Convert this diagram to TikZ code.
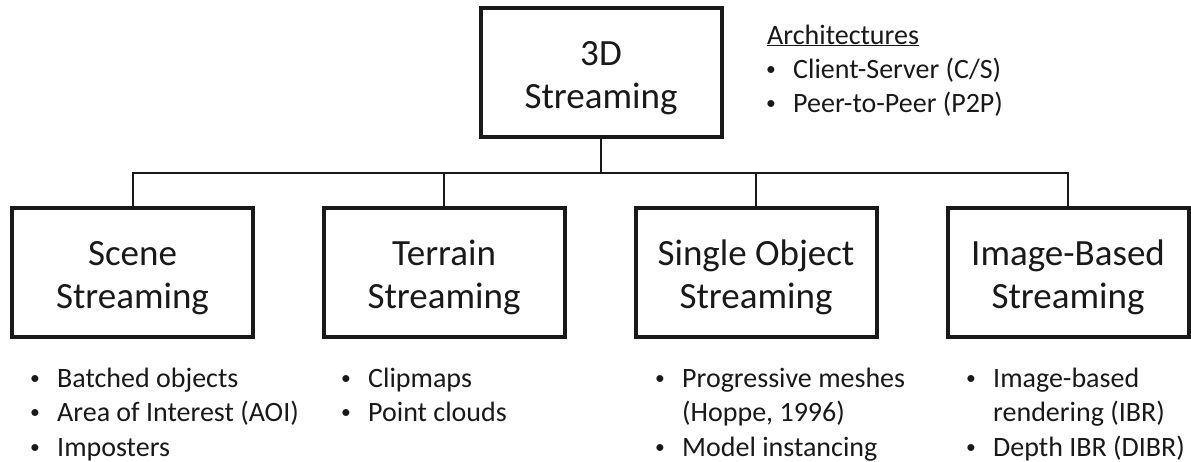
\documentclass[tikz,border=0pt]{standalone}
\usepackage{graphicx}
\usepackage{fontspec}
\setmainfont{Carlito}
% small list bullet followed by a fixed gap to the item text
\newcommand{\bulletmark}{\makebox[28pt][l]{\hspace{1pt}\raisebox{2.6pt}{\scalebox{0.7}{•}}}}
% invisible strut that lowers the two-line box titles a little
\newcommand{\titlestrut}{\rule{0pt}{36pt}}
\begin{document}
\begin{tikzpicture}[x=1pt,y=-1pt,
  box/.style={draw=black!90, line width=4pt, minimum width=241pt, minimum height=129pt,
    inner sep=0pt, align=center, text=black!90, font=\fontsize{37}{43}\selectfont},
  link/.style={draw=black!90, line width=2pt},
  item/.style={anchor=base west, inner sep=0pt, text=black!90, font=\fontsize{28}{34}\selectfont}]
\useasboundingbox[fill=white] (0,0) rectangle (1191,461);

% category boxes
\node[box] (root)    at (601,72.5)    {\titlestrut 3D\\Streaming};
\node[box] (scene)   at (132.5,272.5) {\titlestrut Scene\\Streaming};
\node[box] (terrain) at (444,272.5)   {\titlestrut Terrain\\Streaming};
\node[box] (single)  at (756,272.5)   {\titlestrut Single Object\\Streaming};
\node[box] (image)   at (1068,272.5)  {\titlestrut Image-Based\\Streaming};

% tree connectors
\coordinate (bus) at (601,173);
\draw[link] (root.south) -- (root.south |- bus);
\draw[link] (scene.north) -- (scene.north |- bus) -- (image.north |- bus) -- (image.north);
\draw[link] (terrain.north) -- (terrain.north |- bus);
\draw[link] (single.north) -- (single.north |- bus);

% architectures note
\node[item] (archhead) at (767,44) {\underline{Architectures}};
\node[item] (arch1) at (765,78)  {\bulletmark Client-Server (C/S)};
\node[item] (arch2) at (765,112) {\bulletmark Peer-to-Peer (P2P)};

% scene streaming techniques
\node[item] (sc1) at (29,387) {\bulletmark Batched objects};
\node[item] (sc2) at (29,421) {\bulletmark Area of Interest (AOI)};
\node[item] (sc3) at (29,456) {\bulletmark Imposters};

% terrain streaming techniques
\node[item] (te1) at (340,387) {\bulletmark Clipmaps};
\node[item] (te2) at (340,421) {\bulletmark Point clouds};

% single object streaming techniques
\node[item] (so1) at (654,387) {\bulletmark Progressive meshes};
\node[item] (so2) at (682,421) {(Hoppe, 1996)};
\node[item] (so3) at (654,456) {\bulletmark Model instancing};

% image-based streaming techniques
\node[item] (ib1) at (965,387) {\bulletmark Image-based};
\node[item] (ib2) at (993,421) {rendering (IBR)};
\node[item] (ib3) at (965,456) {\bulletmark Depth IBR (DIBR)};
\end{tikzpicture}
\end{document}
